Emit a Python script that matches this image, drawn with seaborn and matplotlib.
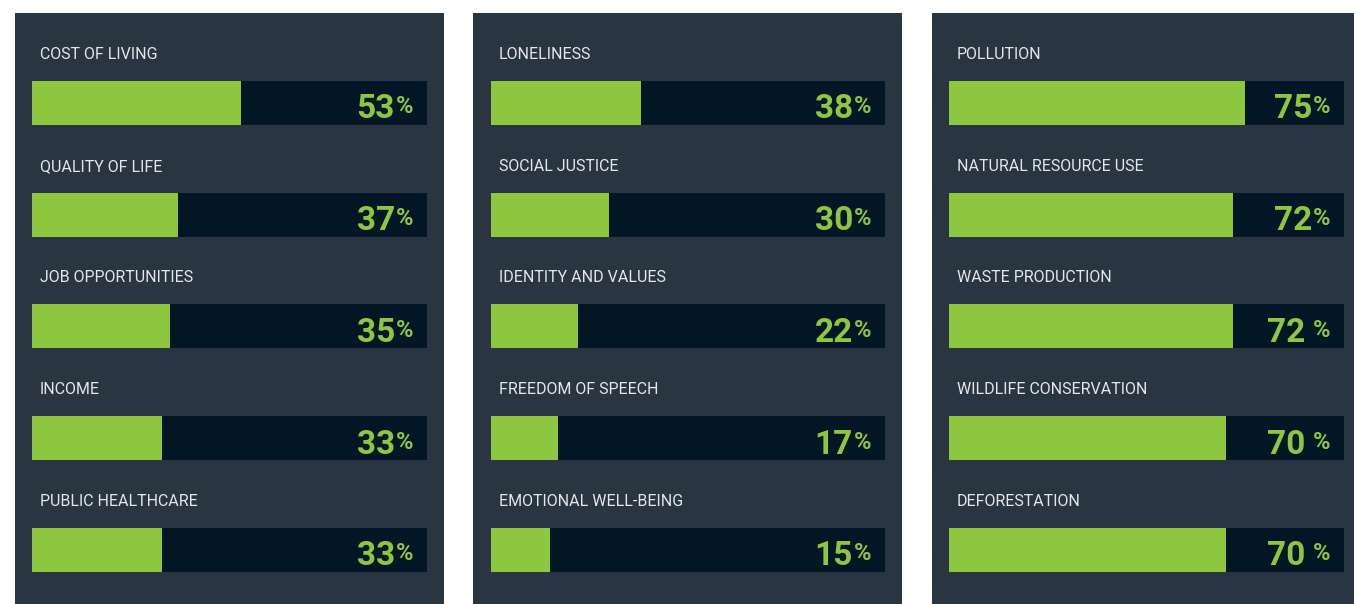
import matplotlib
matplotlib.use("Agg")
import matplotlib.pyplot as plt
import seaborn as sns
import pandas as pd

# ---- data ----
panel1_labels = ["COST OF LIVING", "QUALITY OF LIFE", "JOB OPPORTUNITIES", "INCOME", "PUBLIC HEALTHCARE"]
panel1_values = [53, 37, 35, 33, 33]
panel2_labels = ["LONELINESS", "SOCIAL JUSTICE", "IDENTITY AND VALUES", "FREEDOM OF SPEECH", "EMOTIONAL WELL-BEING"]
panel2_values = [38, 30, 22, 17, 15]
panel3_labels = ["POLLUTION", "NATURAL RESOURCE USE", "WASTE PRODUCTION", "WILDLIFE CONSERVATION", "DEFORESTATION"]
panel3_values = [75, 72, 72, 70, 70]
track_max = 100

# style
sns.set_theme(style="white")
plt.rcParams['font.family'] = ['Roboto', 'DejaVu Sans']

PANEL_BG = "#2a3542"
TRACK = "#021626"
GREEN = "#8dc63f"
LABEL = "#e4e6e8"

W, H = 1354, 604
fig = plt.figure(figsize=(W / 100, H / 100), dpi=100)
fig.patch.set_facecolor("white")

# panel pixel geometry (left, right) and bar start/end
panels = [
    (panel1_labels, panel1_values, 15, 444, 32, 427, [0.5] * 5),
    (panel2_labels, panel2_values, 473, 902, 491, 885, [0.5] * 5),
    (panel3_labels, panel3_values, 932, 1354, 949, 1344, [0.5, 0.5, 5, 5, 5]),
]
top_px, bot_px = 13, 604
row_step = 111.75
bar_h_px = 44
first_center_px = 103

for labels, values, pl, pr, bl, br, gaps in panels:
    ax = fig.add_axes([pl / W, (H - bot_px) / H, (pr - pl) / W, (bot_px - top_px) / H])
    ax.set_facecolor(PANEL_BG)
    df = pd.DataFrame({"label": labels, "value": values, "track": [track_max] * len(labels)})
    width = bar_h_px / row_step
    sns.barplot(data=df, x="track", y="label", orient="h", color=TRACK, width=width,
                linewidth=0, saturation=1, ax=ax)
    sns.barplot(data=df, x="value", y="label", orient="h", color=GREEN, width=width,
                linewidth=0, saturation=1, ax=ax)
    scale = track_max / (br - bl)
    ax.set_xlim(-(bl - pl) * scale, track_max + (pr - br) * scale)
    top_u = (first_center_px - top_px) / row_step
    tot_u = (bot_px - top_px) / row_step
    ax.set_ylim(tot_u - top_u, -top_u)
    ax.set_xticks([]); ax.set_yticks([])
    ax.set_xlabel(""); ax.set_ylabel("")
    for s in ax.spines.values():
        s.set_visible(False)

    for i, (lab, v) in enumerate(zip(labels, values)):
        ax.text(8 * scale, i - 44 / row_step, lab, color=LABEL, fontsize=11.5,
                ha="left", va="baseline")
        pct = ax.annotate("%", xy=(track_max, i), xytext=(-10, -7.5), textcoords="offset points",
                          color=GREEN, fontsize=17, fontweight="bold", ha="right", va="baseline")
        ax.annotate(str(v), xy=(0, 0), xycoords=pct, xytext=(-gaps[i], 0),
                    textcoords="offset points", color=GREEN, fontsize=24,
                    fontweight="bold", ha="right", va="baseline")

fig.savefig("out.png", dpi=100, facecolor="white")
